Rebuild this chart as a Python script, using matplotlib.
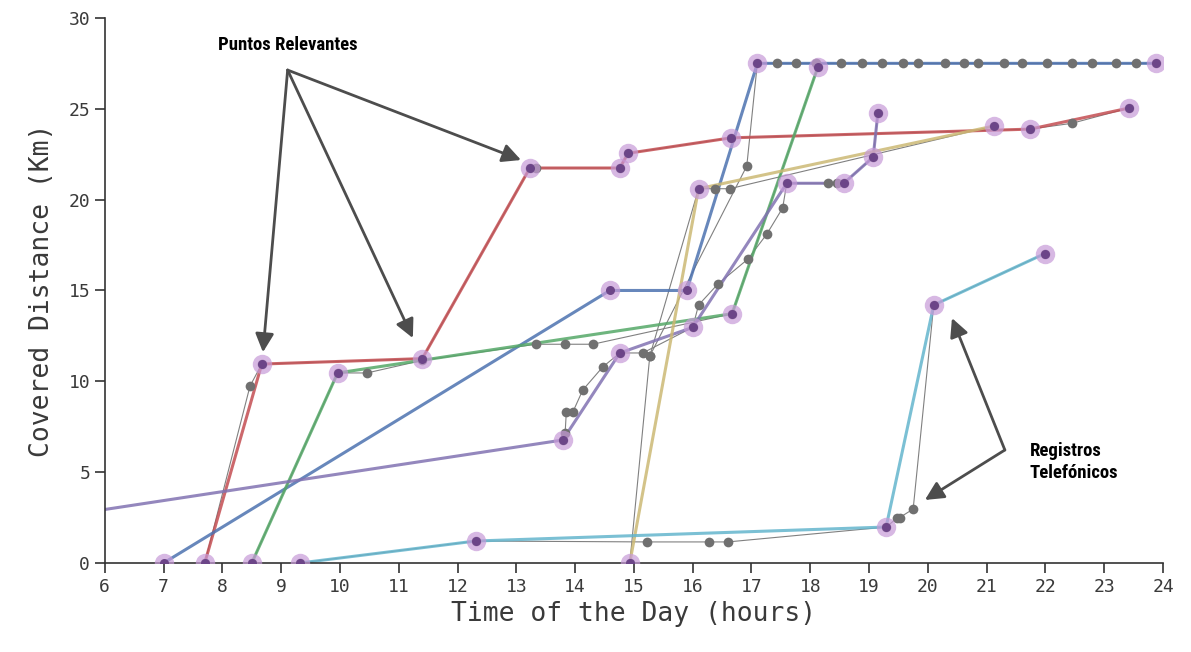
import matplotlib
matplotlib.use("Agg")
import matplotlib.pyplot as plt

# route segments (relevant points are the vertices of each thick line)
red_t = [7.70, 8.67, 11.40, 13.23, 14.76, 14.90, 16.65, 21.74, 23.42]
red_d = [0.0, 10.95, 11.25, 21.74, 21.74, 22.55, 23.40, 23.88, 25.04]
blue_t = [7.00, 14.59, 15.90, 17.10, 23.88]
blue_d = [0.0, 15.0, 15.0, 27.5, 27.5]
green_t = [8.50, 9.96, 16.67, 18.13]
green_d = [0.0, 10.46, 13.72, 27.3]
purple_t = [0.0, 13.79, 14.76, 16.00, 17.60, 18.57, 19.07, 19.15]
purple_d = [0.0, 6.77, 11.56, 12.97, 20.90, 20.90, 22.34, 24.77]
yellow_t = [14.93, 16.10, 21.12]
yellow_d = [0.0, 20.60, 24.05]
cyan_t = [9.32, 12.31, 19.29, 20.10, 21.99]
cyan_d = [0.0, 1.21, 1.98, 14.20, 17.03]

# phone records for each route
red_tel_t = [7.70, 8.47, 8.67, 11.40, 13.23, 13.33, 14.76, 14.90, 16.65, 21.74, 22.45, 23.42]
red_tel_d = [0.0, 9.74, 10.95, 11.25, 21.74, 21.74, 21.74, 22.55, 23.40, 23.88, 24.20, 25.04]
blue_tel_t = [15.27, 16.92, 17.10, 17.43, 17.76, 18.10, 18.52, 18.88, 19.22, 19.58, 19.83,
              20.29, 20.61, 20.85, 21.29, 21.60, 22.03, 22.45, 22.79, 23.20, 23.54, 23.88]
blue_tel_d = [11.39, 21.85, 27.5, 27.5, 27.5, 27.5, 27.5, 27.5, 27.5, 27.5, 27.5,
              27.5, 27.5, 27.5, 27.5, 27.5, 27.5, 27.5, 27.5, 27.5, 27.5, 27.5]
green_tel_t = [8.50, 9.96, 10.46, 11.40, 13.33, 13.83, 14.30, 16.67, 18.13]
green_tel_d = [0.0, 10.46, 10.46, 11.15, 12.04, 12.04, 12.04, 13.72, 27.3]
purple_tel_t = [13.79, 13.83, 13.85, 13.96, 14.13, 14.47, 14.76, 15.15, 16.00, 16.10, 16.43,
                16.94, 17.26, 17.53, 17.60, 18.30, 18.45, 18.57, 19.07, 19.15]
purple_tel_d = [6.77, 7.15, 8.30, 8.30, 9.52, 10.79, 11.56, 11.56, 12.97, 14.20, 15.36,
                16.73, 18.10, 19.54, 20.90, 20.90, 20.90, 20.90, 22.34, 24.77]
yellow_tel_t = [14.93, 15.27, 16.10, 16.38, 16.63, 21.12]
yellow_tel_d = [0.0, 11.39, 20.60, 20.60, 20.60, 24.05]
cyan_tel_t = [9.32, 12.31, 15.22, 16.28, 16.60, 19.29, 19.47, 19.52, 19.75, 20.10, 21.99]
cyan_tel_d = [0.0, 1.21, 1.16, 1.16, 1.16, 1.98, 2.45, 2.50, 2.97, 14.20, 17.03]

routes = [
    (red_t, red_d, red_tel_t, red_tel_d, "#C44E52"),
    (blue_t, blue_d, blue_tel_t, blue_tel_d, "#4C72B0"),
    (green_t, green_d, green_tel_t, green_tel_d, "#55A868"),
    (purple_t, purple_d, purple_tel_t, purple_tel_d, "#8172B2"),
    (yellow_t, yellow_d, yellow_tel_t, yellow_tel_d, "#CCB974"),
    (cyan_t, cyan_d, cyan_tel_t, cyan_tel_d, "#64B5CD"),
]

plt.rcParams['font.family'] = ['DejaVu Sans Mono']
fig = plt.figure(figsize=(11.91, 6.52), dpi=100)
ax = fig.add_axes([0.088, 0.1365, 0.8885, 0.836])

for t, d, tt, td, col in routes:
    ax.plot(tt, td, color='#808080', lw=0.8, zorder=1.5)
    ax.plot(t, d, color=col, lw=2.2, alpha=0.85, zorder=2)
    ax.plot(tt, td, 'o', color='#707070', ms=7, mec='none', zorder=4)
    ax.plot(t, d, 'o', color='#c79ad8', alpha=0.7, ms=14, mec='none', zorder=5)
    ax.plot(t, d, 'o', color='#6c4588', ms=6.5, mec='none', zorder=6)

ax.set_xlim(6, 24)
ax.set_ylim(0, 30)
ax.set_xticks(range(6, 25))
ax.set_yticks(range(0, 31, 5))
for s in ['top', 'right']:
    ax.spines[s].set_visible(False)
for s in ['left', 'bottom']:
    ax.spines[s].set_color('#333333')
    ax.spines[s].set_linewidth(1.2)
ax.tick_params(length=7, width=1.2, color='#333333', labelsize=13, labelcolor='#3a3a3a')
ax.set_xlabel('Time of the Day (hours)', fontsize=19, color='#3a3a3a', labelpad=4)
ax.set_ylabel('Covered Distance (Km)', fontsize=19, color='#3a3a3a', labelpad=10)

# annotations
note_font = dict(family=['Roboto Condensed', 'DejaVu Sans'], fontstretch='condensed',
                 weight='heavy', fontsize=13.5, color='black')
arrow = dict(arrowstyle='-|>', color='#4d4d4d', lw=2, mutation_scale=28, shrinkA=0, shrinkB=0)

ax.text(9.11, 28.5, 'Puntos Relevantes', ha='center', va='center', **note_font)
for xy in [(8.69, 11.6), (11.24, 12.38), (13.08, 22.18)]:
    ax.annotate('', xy=xy, xytext=(9.11, 27.13), arrowprops=arrow, annotation_clip=False)

ax.text(21.73, 5.55, 'Registros\nTelefónicos', ha='left', va='center',
        linespacing=1.25, **note_font)
for xy in [(20.41, 13.48), (19.95, 3.47)]:
    ax.annotate('', xy=xy, xytext=(21.31, 6.22), arrowprops=arrow)

fig.savefig('out.png', dpi=100)
